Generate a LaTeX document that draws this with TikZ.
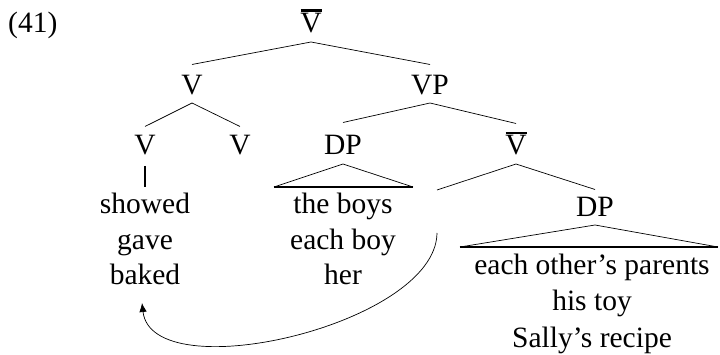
\documentclass[tikz,border=0pt]{standalone}
\usepackage{fontspec}
\setmainfont{Liberation Serif}
\usetikzlibrary{arrows.meta}
\newcommand\treefs{\fontsize{29.5}{35}\selectfont}
\begin{document}
\begin{tikzpicture}[x=1pt,y=-1pt,
  every node/.style={font=\treefs, inner sep=0pt, anchor=base},
  br/.style={line width=0.7pt},
  tribase/.style={line width=1.4pt},
  unary/.style={line width=1.4pt},
  barline/.style={line width=2.7pt},
  move/.style={line width=0.7pt, -{Latex[length=9pt,width=7.5pt]}}]
\useasboundingbox (0,0) rectangle (720,355);
% example number
\node[anchor=base west] (ex) at (8,33) {(41)};
% category labels
\node (top) at (311,33) {V};
\node (v1) at (192,95) {V};
\node (vp) at (430,95) {VP};
\node (v2) at (145,155) {V};
\node (v3) at (240,155) {V};
\node (dp1) at (343,155) {DP};
\node (vb) at (516,155) {V};
\coordinate (tr) at (437,190);
\node (dp2) at (595,217) {DP};
% leaves
\node (s1) at (145,214) {showed};
\node (s2) at (145,250) {gave};
\node (s3) at (145,285) {baked};
\node (b1) at (343,214) {the boys};
\node (b2) at (343,250) {each boy};
\node (b3) at (343,285) {her};
\node (p1) at (592,275) {each other’s parents};
\node (p2) at (592,311) {his toy};
\node (p3) at (592,347) {Sally’s recipe};
% bars
\draw[barline] ([xshift=-10.5pt,yshift=22.3pt]top.base) -- ([xshift=10.5pt,yshift=22.3pt]top.base);
\draw[barline] ([xshift=-10.5pt,yshift=22pt]vb.base) -- ([xshift=10.5pt,yshift=22pt]vb.base);
% branches
\draw[br] ([yshift=11pt]v1.north) -- ([yshift=-9pt]top.base) -- ([yshift=11pt]vp.north);
\draw[br] ([yshift=9pt]v2.north) -- ([yshift=-8pt]v1.base) -- ([yshift=9pt]v3.north);
\draw[br] ([yshift=13pt]dp1.north) -- ([yshift=-8pt]vp.base) -- ([yshift=12pt]vb.north);
\draw[br] (tr) -- ([yshift=-9pt]vb.base) -- ([yshift=8pt]dp2.north);
\draw[unary] ([yshift=-11pt]v2.base) -- ([yshift=6pt]s1.north);
% triangles
\draw[br] ([xshift=-69pt,yshift=-32pt]dp1.base) -- ([yshift=-9pt]dp1.base) -- ([xshift=70pt,yshift=-32pt]dp1.base);
\draw[tribase] ([xshift=-69pt,yshift=-32pt]dp1.base) -- ([xshift=70pt,yshift=-32pt]dp1.base);
\draw[br] ([xshift=-135pt,yshift=-30pt]dp2.base) -- ([yshift=-8pt]dp2.base) -- ([xshift=123pt,yshift=-30pt]dp2.base);
\draw[tribase] ([xshift=-135pt,yshift=-30pt]dp2.base) -- ([xshift=123pt,yshift=-30pt]dp2.base);
% movement arrow
\draw[move] ([yshift=-43pt]tr) .. controls (436,325) and (152,390) .. ([xshift=-3pt,yshift=-18pt]s3.base);
\end{tikzpicture}
\end{document}
